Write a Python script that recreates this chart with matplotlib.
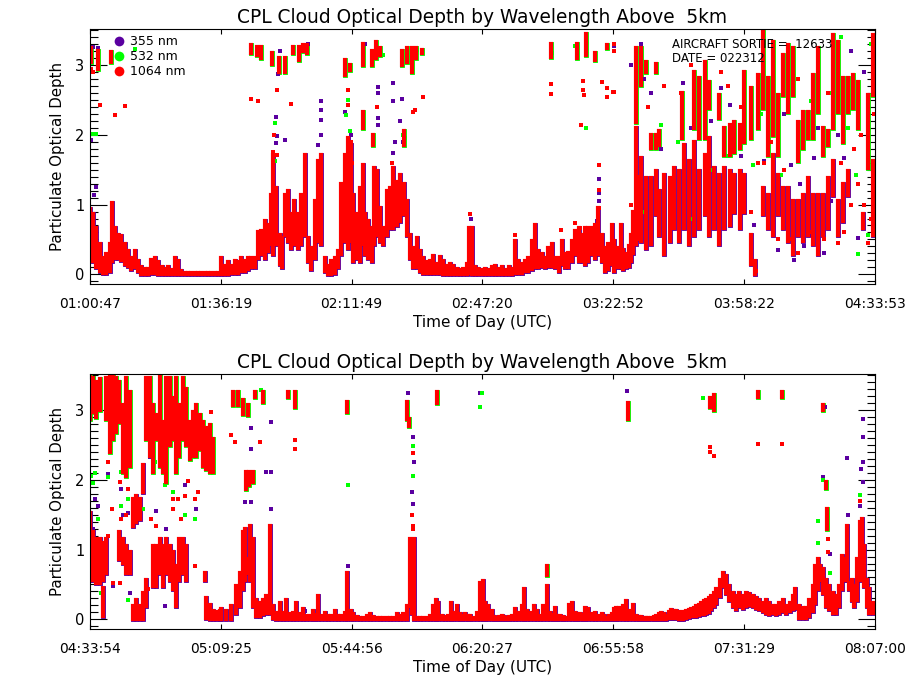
import matplotlib
matplotlib.use("Agg")
import matplotlib.pyplot as plt
from matplotlib.lines import Line2D
from matplotlib.ticker import MultipleLocator

# times are minutes after 00:00 UTC, depth is particulate optical depth
# band rows: (time, low, high) of the dense vertical runs of points
top_band = [
    (60.9, 0.24, 0.93), (61.6, 0.19, 0.86), (62.5, 0.10, 0.67), (63.4, 0.05, 0.43), (64.3, 0.02, 0.24),
    (65.2, 0.02, 0.29), (66.1, 0.05, 0.43), (66.8, 0.19, 1.02), (67.5, 0.24, 0.67), (68.4, 0.24, 0.57),
    (69.3, 0.21, 0.55), (70.2, 0.14, 0.43), (71.1, 0.12, 0.33), (72.0, 0.07, 0.24), (72.9, 0.10, 0.33),
    (73.8, 0.05, 0.19), (74.7, 0.01, 0.10), (75.6, 0.01, 0.07), (76.5, 0.01, 0.07), (77.4, 0.02, 0.21),
    (78.3, 0.02, 0.24), (79.2, 0.01, 0.17), (80.2, 0.01, 0.10), (81.1, 0.0, 0.07), (82.0, 0.0, 0.10),
    (82.9, 0.0, 0.06), (83.8, 0.0, 0.24), (84.7, 0.0, 0.19), (85.6, 0.0, 0.05), (86.5, 0.0, 0.02),
    (87.4, 0.0, 0.02), (88.3, 0.0, 0.02), (89.2, 0.0, 0.02), (90.1, 0.0, 0.02), (91.0, 0.0, 0.02),
    (91.9, 0.0, 0.02), (92.8, 0.0, 0.02), (93.7, 0.0, 0.02), (94.6, 0.0, 0.02), (95.5, 0.0, 0.02),
    (96.4, 0.0, 0.24), (97.3, 0.01, 0.12), (98.3, 0.01, 0.17), (99.2, 0.02, 0.12), (100.1, 0.02, 0.19),
    (101.0, 0.02, 0.17), (101.9, 0.05, 0.24), (102.8, 0.05, 0.19), (103.7, 0.07, 0.24), (104.6, 0.10, 0.24),
    (105.5, 0.10, 0.24), (106.4, 0.24, 0.60), (107.3, 0.29, 0.62), (108.2, 0.24, 0.76), (109.1, 0.33, 0.71),
    (110.0, 0.43, 1.14), (110.6, 0.29, 1.71), (111.4, 0.43, 1.24), (112.3, 0.14, 0.57), (112.9, 0.10, 0.52),
    (113.8, 0.57, 1.14), (114.5, 0.48, 1.19), (115.4, 0.38, 0.86), (116.3, 0.43, 1.05), (117.3, 0.38, 0.86),
    (118.2, 0.43, 1.14), (119.1, 0.57, 1.71), (120.0, 0.19, 0.52), (120.9, 0.07, 0.38), (121.8, 0.24, 1.05),
    (122.7, 0.48, 1.62), (123.6, 0.43, 1.71), (124.5, 0.05, 0.24), (125.4, 0.01, 0.12), (126.3, 0.01, 0.19),
    (127.2, 0.02, 0.24), (128.1, 0.10, 0.33), (129.0, 0.29, 1.29), (129.9, 0.48, 1.71), (130.8, 0.38, 1.95),
    (131.7, 0.48, 1.86), (132.3, 0.19, 1.14), (133.2, 0.24, 0.86), (134.1, 0.19, 1.24), (134.8, 0.43, 1.57),
    (135.4, 0.29, 0.86), (136.3, 0.24, 0.76), (137.3, 0.19, 0.67), (137.9, 0.43, 1.52), (138.6, 0.57, 1.48),
    (139.5, 0.48, 0.95), (140.4, 0.43, 0.67), (141.3, 0.57, 1.19), (142.2, 0.67, 1.24), (143.1, 0.67, 1.52),
    (144.0, 0.71, 1.33), (145.0, 0.76, 1.43), (145.9, 0.86, 1.29), (146.8, 0.57, 1.05), (147.7, 0.24, 0.57),
    (148.6, 0.10, 0.38), (149.5, 0.10, 0.52), (150.4, 0.05, 0.33), (151.3, 0.02, 0.24), (152.2, 0.02, 0.17),
    (153.1, 0.02, 0.19), (154.0, 0.02, 0.26), (154.9, 0.02, 0.14), (155.8, 0.02, 0.25), (156.7, 0.01, 0.19),
    (157.6, 0.01, 0.12), (158.5, 0.01, 0.14), (159.4, 0.01, 0.12), (160.3, 0.01, 0.07), (161.2, 0.01, 0.06),
    (162.1, 0.01, 0.07), (163.0, 0.01, 0.14), (163.8, 0.02, 0.67), (164.5, 0.01, 0.67), (165.3, 0.01, 0.10),
    (166.2, 0.01, 0.07), (167.1, 0.01, 0.06), (168.0, 0.01, 0.07), (168.9, 0.01, 0.06), (169.8, 0.01, 0.10),
    (170.7, 0.01, 0.12), (171.6, 0.01, 0.07), (172.5, 0.01, 0.10), (173.5, 0.01, 0.06), (174.4, 0.01, 0.10),
    (175.3, 0.01, 0.07), (176.2, 0.02, 0.48), (177.1, 0.02, 0.19), (178.0, 0.02, 0.14), (178.9, 0.05, 0.19),
    (179.8, 0.05, 0.24), (180.7, 0.07, 0.48), (181.6, 0.10, 0.71), (182.5, 0.10, 0.33), (183.4, 0.12, 0.29),
    (184.3, 0.10, 0.24), (185.2, 0.12, 0.38), (186.1, 0.12, 0.43), (187.0, 0.10, 0.24), (188.0, 0.05, 0.24),
    (188.8, 0.14, 0.48), (189.7, 0.10, 0.29), (190.6, 0.10, 0.31), (191.6, 0.19, 0.48), (192.5, 0.29, 0.62),
    (193.4, 0.19, 0.67), (194.3, 0.19, 0.57), (195.2, 0.14, 0.67), (196.1, 0.19, 0.67), (197.0, 0.29, 0.67),
    (197.9, 0.24, 0.71), (198.8, 0.29, 0.95), (199.7, 0.19, 0.57), (200.6, 0.05, 0.38), (201.5, 0.07, 0.43),
    (202.4, 0.14, 0.71), (203.1, 0.05, 0.48), (204.0, 0.10, 0.38), (204.9, 0.10, 0.71), (205.6, 0.08, 0.35),
    (206.3, 0.10, 0.29), (207.0, 0.12, 0.40), (207.6, 0.19, 0.57), (208.3, 0.30, 0.90), (209.0, 0.43, 2.10),
    (209.7, 0.50, 1.40), (210.4, 0.48, 1.67), (211.7, 0.38, 1.38), (213.1, 0.43, 1.38), (214.4, 0.86, 1.48),
    (215.3, 0.57, 1.19), (216.7, 0.29, 1.43), (218.1, 0.48, 1.38), (219.4, 0.67, 1.52), (220.8, 0.48, 1.48),
    (222.1, 0.67, 1.86), (223.5, 0.43, 1.62), (224.8, 0.57, 1.90), (226.2, 0.67, 1.48), (227.6, 0.86, 1.71),
    (228.9, 0.57, 1.95), (230.3, 0.67, 1.52), (231.6, 0.43, 1.43), (233.0, 0.67, 1.52), (234.4, 0.71, 1.48),
    (235.7, 0.90, 1.43), (237.1, 0.67, 1.48), (238.4, 0.90, 1.43), (240.2, 0.14, 0.57), (241.3, 0.01, 0.19),
    (243.4, 0.86, 1.24), (244.8, 0.67, 1.14), (246.1, 0.57, 1.71), (247.5, 0.86, 1.43), (248.8, 0.67, 1.24),
    (250.2, 0.48, 1.24), (251.5, 0.29, 1.05), (252.9, 0.57, 1.05), (254.3, 0.48, 1.14), (255.6, 0.57, 1.38),
    (257.0, 0.43, 1.14), (258.3, 0.29, 1.14), (259.7, 0.57, 1.14), (261.0, 0.67, 1.38), (262.4, 1.14, 1.62),
    (263.8, 0.57, 1.05), (265.1, 0.76, 1.29), (266.5, 1.14, 1.48), (270.5, 0.67, 0.86), (273.3, 0.57, 1.62),
]
top_upper = [
    (61.1, 3.05, 3.24), (62.9, 2.95, 3.20), (66.5, 3.05, 3.19), (104.6, 3.17, 3.29), (106.0, 3.14, 3.26),
    (107.3, 3.10, 3.26), (110.2, 3.02, 3.17), (112.0, 2.90, 3.10), (113.6, 2.90, 3.10), (115.9, 3.17, 3.26),
    (117.4, 3.07, 3.26), (118.6, 3.20, 3.29), (119.8, 3.17, 3.29), (129.9, 2.86, 3.07), (131.4, 2.93, 3.00),
    (135.0, 3.00, 3.30), (137.3, 3.00, 3.20), (138.4, 3.10, 3.33), (139.5, 3.15, 3.25), (145.4, 3.00, 3.20),
    (146.8, 3.05, 3.24), (148.2, 2.90, 3.24), (149.2, 3.10, 3.24), (151.0, 3.17, 3.22), (185.9, 3.12, 3.30),
    (193.0, 3.10, 3.30), (195.5, 3.15, 3.45), (197.9, 3.07, 3.17), (201.0, 3.24, 3.29), (135.0, 2.10, 2.33),
    (137.7, 1.86, 2.00), (145.9, 1.86, 2.05),
    (209.0, 2.19, 3.24), (210.4, 2.71, 3.24), (211.7, 2.90, 3.05), (213.1, 1.81, 2.00), (214.4, 2.90, 3.02),
    (214.4, 1.81, 2.00), (215.3, 1.86, 2.05), (221.5, 1.95, 2.60), (224.8, 2.10, 2.90), (226.2, 1.95, 2.81),
    (227.6, 1.95, 3.05), (228.9, 2.38, 2.76), (231.6, 2.24, 2.57), (233.0, 1.71, 2.10), (234.4, 1.71, 2.14),
    (235.7, 1.76, 2.19), (237.1, 1.81, 2.14), (238.4, 1.90, 2.90), (240.2, 1.95, 2.67), (242.0, 2.10, 2.86),
    (243.4, 2.38, 3.48), (244.8, 1.71, 2.81), (246.1, 2.00, 3.33), (247.5, 1.71, 2.57), (248.8, 2.57, 3.14),
    (250.2, 2.33, 3.29), (251.5, 2.57, 3.24), (252.9, 1.62, 2.19), (254.3, 1.81, 2.33), (255.6, 1.95, 2.33),
    (257.0, 1.95, 2.86), (258.3, 2.33, 3.24), (259.7, 1.71, 2.10), (261.0, 1.86, 2.05), (262.4, 2.10, 3.43),
    (263.8, 2.33, 3.33), (265.1, 1.90, 2.81), (266.5, 2.33, 2.81), (267.8, 2.38, 2.86), (269.2, 2.10, 2.76),
    (271.9, 1.52, 2.57), (273.3, 2.57, 3.43),
]
top_purple = [
    (62.95, 3.24), (61.6, 3.26), (62.5, 1.25), (61.9, 1.14), (61.1, 1.93), (111.4, 2.26), (111.4, 1.88),
    (111.6, 1.98), (113.6, 1.93), (123.6, 2.48), (123.6, 2.36), (123.6, 2.21), (123.6, 2.0), (122.7, 1.86),
    (111.8, 2.88), (112.3, 3.21), (120.0, 3.3), (129.9, 2.86), (131.7, 2.0), (129.9, 2.33),
    (139.1, 2.69), (139.1, 2.6), (143.1, 2.74), (143.1, 2.48), (145.4, 2.52), (139.1, 2.24), (139.1, 2.14),
    (145.0, 2.2), (145.8, 1.9), (143.6, 1.9), (137.7, 1.86), (143.1, 1.74), (131.4, 1.9), (199.0, 1.36),
    (199.0, 1.17), (199.0, 1.05), (198.3, 0.76), (148.1, 3.2), (135.4, 3.3), (202.9, 3.27), (197.9, 3.17),
    (164.2, 0.79), (221.7, 2.74), (232.1, 2.67), (234.4, 2.43), (243.8, 1.62), (251.1, 1.57), (253.4, 1.29),
    (257.4, 1.67), (265.6, 1.67), (269.2, 0.52), (261.9, 1.05), (256.1, 0.57), (210.4, 3.3), (213.1, 2.6),
    (207.6, 3.0), (215.8, 1.8), (235.7, 1.75), (237.5, 1.7), (229.4, 2.2), (249.3, 2.3), (254.7, 0.4),
    (258.3, 2.1), (263.8, 2.0), (267.4, 3.2), (271.0, 2.9), (273.3, 1.1), (223.9, 2.1), (211.3, 2.8),
    (241.1, 0.7), (247.5, 0.35), (260.1, 0.3), (252.0, 0.2),
]
top_green = [
    (61.6, 2.01), (62.5, 2.01), (72.9, 3.23), (110.9, 2.17), (110.9, 1.62), (129.9, 2.93), (130.8, 2.5),
    (130.4, 2.29), (117.4, 3.1), (107.3, 3.12), (110.5, 1.55), (119.1, 1.62), (135.0, 2.15), (145.8, 2.0),
    (146.3, 1.95), (131.4, 2.05), (195.4, 2.1), (194.0, 2.14), (192.5, 3.27), (186.1, 3.17), (149.5, 3.22),
    (140.4, 3.15), (137.7, 1.95), (214.0, 2.0), (215.8, 2.14), (214.9, 1.95), (224.8, 2.79), (240.7, 1.57),
    (268.7, 1.43), (269.2, 0.29), (271.9, 0.57), (246.1, 1.05), (248.4, 1.43), (256.5, 2.48), (266.5, 2.1),
    (233.9, 1.7), (229.4, 1.5), (211.3, 0.9), (220.3, 1.9), (252.9, 1.9), (261.9, 2.6), (272.8, 3.3),
    (264.7, 3.4), (242.9, 2.3), (258.3, 1.0), (223.9, 0.8), (238.4, 2.0),
]
top_red = [
    (61.1, 2.95), (61.6, 2.9), (62.95, 3.12), (63.4, 2.43), (66.4, 3.12), (66.6, 3.05), (67.7, 2.28),
    (70.4, 2.42), (104.6, 2.52), (106.4, 2.49), (111.6, 2.64), (115.4, 2.45), (110.7, 2.0), (110.5, 1.76),
    (111.6, 1.71), (119.1, 1.71), (122.7, 1.6), (130.8, 2.64), (130.8, 2.43), (131.7, 1.9), (110.2, 3.1),
    (113.6, 2.95), (131.4, 1.7), (131.8, 1.6), (135.0, 2.33), (135.0, 2.2), (138.6, 2.4), (137.7, 1.95),
    (148.1, 2.9), (148.6, 2.33), (149.0, 2.36), (151.1, 2.55), (142.9, 1.6), (143.1, 1.52), (185.9, 2.73),
    (185.9, 2.58), (194.7, 2.78), (194.7, 2.64), (194.9, 2.57), (199.7, 2.76), (201.0, 2.67), (201.2, 2.55),
    (202.9, 2.62), (199.0, 1.57), (199.0, 1.21), (199.0, 0.95), (192.5, 0.74), (188.7, 0.64), (193.8, 0.67),
    (164.0, 0.86), (176.2, 0.57), (194.0, 2.14), (202.7, 2.62), (203.1, 3.2), (203.1, 3.3), (238.4, 1.17),
    (241.6, 0.05), (214.9, 1.1), (243.8, 1.6), (247.5, 0.5), (251.1, 0.5), (252.9, 0.3), (256.5, 0.6),
    (258.3, 0.4), (260.1, 0.5), (263.8, 0.45), (265.6, 0.6), (267.4, 1.0), (269.2, 1.3), (271.0, 1.0),
    (272.8, 0.8), (268.3, 1.8), (270.1, 2.0), (261.0, 2.6), (252.9, 2.8), (242.0, 1.6), (240.2, 0.9),
    (237.5, 2.4), (232.1, 2.9), (221.2, 2.6), (223.9, 3.0), (216.7, 2.7), (212.2, 2.4), (207.6, 1.0),
    (233.9, 2.7), (245.7, 1.9), (249.3, 1.5), (264.7, 1.6), (271.9, 0.45), (273.7, 2.3),
]

bot_band = [
    (273.9, 0.57, 1.53), (274.7, 0.57, 1.25), (275.6, 0.52, 1.15), (276.5, 0.52, 1.15), (277.4, 0.57, 1.10),
    (277.4, 0.05, 0.45), (278.3, 0.67, 1.15), (281.8, 0.86, 1.25), (282.9, 0.81, 1.15), (283.8, 0.67, 1.05),
    (284.7, 0.67, 0.96), (285.6, 0.0, 0.19), (285.6, 1.34, 1.73), (286.5, 0.0, 0.28), (286.5, 1.39, 1.77),
    (287.4, 0.0, 0.19), (287.4, 1.44, 1.73), (288.3, 0.0, 0.38), (288.3, 1.82, 2.21), (289.2, 0.19, 0.57),
    (291.0, 0.48, 1.05), (291.9, 0.48, 1.05), (292.8, 0.67, 1.15), (293.7, 0.48, 1.05), (294.6, 0.67, 1.15),
    (295.5, 0.57, 1.05), (296.4, 0.43, 0.96), (297.3, 0.19, 0.76), (298.2, 0.57, 1.15), (299.1, 0.67, 1.15),
    (300.1, 0.57, 1.05), (305.0, 0.57, 0.67), (305.5, 0.02, 0.30), (306.4, 0.0, 0.20), (307.3, 0.0, 0.12),
    (308.2, 0.0, 0.10), (309.1, 0.0, 0.12), (309.6, 0.0, 0.14), (310.9, 0.0, 0.12), (312.3, 0.0, 0.19),
    (313.6, 0.09, 0.48), (314.5, 0.19, 0.67), (315.4, 0.43, 1.25), (316.1, 0.57, 1.29), (316.8, 0.67, 0.86),
    (317.4, 0.57, 1.34), (318.2, 0.19, 1.15), (319.1, 0.04, 0.28), (320.0, 0.04, 0.24), (320.9, 0.07, 0.28),
    (321.8, 0.09, 0.33), (322.7, 0.09, 1.34), (323.6, 0.02, 0.19), (324.5, 0.0, 0.09), (325.4, 0.0, 0.24),
    (326.3, 0.0, 0.09), (327.2, 0.0, 0.28), (328.1, 0.0, 0.07), (329.0, 0.0, 0.09), (329.9, 0.0, 0.24),
    (330.8, 0.0, 0.07), (331.7, 0.0, 0.14), (332.6, 0.0, 0.05), (333.5, 0.0, 0.05), (334.4, 0.0, 0.12),
    (335.1, 0.0, 0.06), (335.8, 0.0, 0.33), (336.7, 0.0, 0.05), (337.6, 0.0, 0.09), (338.5, 0.0, 0.04),
    (339.4, 0.0, 0.04), (340.3, 0.0, 0.12), (341.2, 0.0, 0.05), (342.1, 0.0, 0.05), (343.0, 0.0, 0.09),
    (343.8, 0.0, 0.67), (344.7, 0.0, 0.12), (345.4, 0.0, 0.07), (346.3, 0.0, 0.03), (347.2, 0.0, 0.02),
    (348.1, 0.0, 0.02), (349.0, 0.0, 0.04), (349.9, 0.0, 0.07), (350.8, 0.0, 0.03), (351.7, 0.0, 0.02),
    (352.6, 0.0, 0.02), (353.5, 0.0, 0.02), (354.4, 0.0, 0.02), (355.3, 0.0, 0.02), (356.2, 0.0, 0.02),
    (357.2, 0.0, 0.07), (358.1, 0.0, 0.04), (359.0, 0.0, 0.07), (360.0, 0.0, 0.19), (360.8, 0.19, 1.15),
    (361.3, 0.09, 0.91), (361.9, 0.0, 1.15), (362.6, 0.0, 0.02), (363.5, 0.0, 0.02), (364.4, 0.0, 0.02),
    (365.3, 0.0, 0.02), (366.2, 0.0, 0.04), (367.1, 0.0, 0.19), (367.8, 0.0, 0.28), (368.5, 0.0, 0.24),
    (369.4, 0.0, 0.04), (370.3, 0.0, 0.03), (371.1, 0.0, 0.05), (371.8, 0.0, 0.24), (372.5, 0.0, 0.09),
    (373.4, 0.0, 0.19), (374.3, 0.0, 0.07), (375.0, 0.0, 0.05), (375.7, 0.0, 0.07), (376.4, 0.0, 0.04),
    (377.1, 0.0, 0.04), (378.0, 0.0, 0.02), (378.9, 0.0, 0.09), (379.8, 0.0, 0.52), (380.5, 0.0, 0.55),
    (381.1, 0.0, 0.24), (382.0, 0.0, 0.19), (382.9, 0.0, 0.12), (383.6, 0.0, 0.03), (384.3, 0.0, 0.02),
    (385.0, 0.0, 0.03), (385.7, 0.0, 0.05), (386.4, 0.0, 0.03), (387.0, 0.0, 0.02), (387.7, 0.0, 0.03),
    (388.4, 0.0, 0.04), (389.3, 0.0, 0.14), (390.2, 0.0, 0.09), (391.1, 0.0, 0.19), (391.7, 0.0, 0.43),
    (392.4, 0.0, 0.12), (393.4, 0.0, 0.09), (394.3, 0.0, 0.19), (395.2, 0.0, 0.12), (396.1, 0.0, 0.04),
    (397.0, 0.0, 0.19), (397.9, 0.0, 0.48), (398.8, 0.0, 0.09), (399.5, 0.0, 0.06), (400.1, 0.0, 0.16),
    (400.8, 0.0, 0.05), (401.5, 0.0, 0.04), (402.2, 0.0, 0.03), (402.9, 0.0, 0.02), (403.8, 0.0, 0.21),
    (404.7, 0.0, 0.24), (405.6, 0.0, 0.09), (406.2, 0.0, 0.08), (406.9, 0.0, 0.07), (407.6, 0.0, 0.06),
    (408.3, 0.0, 0.16), (409.2, 0.0, 0.14), (410.1, 0.0, 0.07), (411.0, 0.0, 0.09), (411.9, 0.0, 0.05),
    (412.8, 0.0, 0.07), (413.5, 0.0, 0.04), (414.2, 0.0, 0.02), (414.9, 0.0, 0.04), (415.5, 0.0, 0.07),
    (416.2, 0.0, 0.14), (416.7, 0.0, 0.16), (417.6, 0.0, 0.16), (418.5, 0.0, 0.19), (419.4, 0.0, 0.26),
    (420.3, 0.0, 0.12), (421.2, 0.0, 0.21), (422.1, 0.0, 0.04), (422.8, 0.0, 0.03), (423.5, 0.0, 0.03),
    (424.2, 0.0, 0.02), (424.8, 0.0, 0.02), (425.5, 0.0, 0.02), (426.2, 0.0, 0.02), (426.9, 0.0, 0.03),
    (427.6, 0.0, 0.05), (428.3, 0.0, 0.07), (428.9, 0.0, 0.09), (429.6, 0.0, 0.07), (430.3, 0.0, 0.05),
    (431.0, 0.02, 0.10), (431.6, 0.02, 0.13), (432.3, 0.02, 0.12), (433.0, 0.02, 0.12), (433.7, 0.01, 0.10),
    (434.3, 0.0, 0.08), (435.0, 0.01, 0.10), (435.7, 0.02, 0.12), (436.4, 0.03, 0.13), (437.1, 0.04, 0.14),
    (437.8, 0.04, 0.16), (438.4, 0.05, 0.19), (439.1, 0.06, 0.21), (439.8, 0.07, 0.24), (440.5, 0.08, 0.26),
    (441.1, 0.09, 0.28), (441.8, 0.11, 0.30), (442.5, 0.14, 0.33), (443.2, 0.19, 0.38), (443.9, 0.24, 0.43),
    (444.8, 0.33, 0.57), (445.7, 0.48, 0.67), (446.6, 0.38, 0.62), (447.5, 0.28, 0.48), (448.4, 0.19, 0.38),
    (449.3, 0.14, 0.33), (450.2, 0.19, 0.38), (451.1, 0.16, 0.33), (452.0, 0.19, 0.38), (452.9, 0.21, 0.36),
    (453.8, 0.19, 0.33), (454.7, 0.16, 0.31), (455.6, 0.14, 0.28), (456.5, 0.12, 0.24), (457.4, 0.09, 0.28),
    (458.3, 0.07, 0.24), (459.2, 0.09, 0.19), (460.1, 0.07, 0.19), (461.0, 0.09, 0.24), (461.9, 0.12, 0.28),
    (462.8, 0.09, 0.19), (463.8, 0.12, 0.24), (464.7, 0.14, 0.33), (465.4, 0.16, 0.43), (466.5, 0.02, 0.19),
    (467.4, 0.02, 0.16), (468.3, 0.02, 0.16), (469.2, 0.04, 0.28), (470.1, 0.12, 0.48), (470.8, 0.24, 0.76),
    (471.4, 0.43, 0.86), (472.2, 0.57, 0.76), (472.8, 0.38, 0.72), (473.7, 0.19, 0.57), (474.6, 0.14, 0.48),
    (475.5, 0.09, 0.38), (476.4, 0.09, 0.33), (477.3, 0.19, 0.48), (478.0, 0.43, 0.91), (478.7, 0.57, 0.86),
    (479.4, 0.57, 1.34), (480.0, 0.43, 0.52), (480.7, 0.28, 0.57), (481.4, 0.19, 0.48), (482.1, 0.28, 0.86),
    (482.8, 0.57, 1.39), (483.4, 0.67, 1.44), (484.1, 0.48, 1.05), (484.8, 0.19, 0.57), (485.5, 0.09, 0.43),
    (486.4, 0.09, 0.24),
]
bot_upper = [
    (273.9, 2.88, 3.50), (274.7, 2.98, 3.46), (275.6, 2.90, 3.40), (276.5, 3.00, 3.45), (278.3, 2.88, 3.46),
    (279.2, 2.40, 3.50), (280.1, 2.59, 3.50), (281.0, 2.69, 3.46), (281.8, 2.83, 3.41), (282.9, 2.11, 3.07),
    (283.8, 2.06, 3.46), (284.7, 2.20, 3.26), (289.2, 2.59, 3.46), (290.1, 2.35, 3.46), (291.0, 2.11, 3.07),
    (291.9, 2.59, 2.93), (292.8, 2.20, 3.50), (293.7, 2.11, 2.83), (294.6, 1.97, 3.46), (295.5, 2.50, 3.46),
    (296.4, 2.59, 3.17), (297.3, 2.11, 3.46), (298.2, 2.35, 3.07), (299.1, 2.59, 3.46), (300.1, 2.50, 3.31),
    (301.0, 2.30, 2.83), (301.9, 2.35, 2.98), (302.8, 2.35, 3.07), (303.7, 2.45, 2.93), (304.6, 2.20, 2.83),
    (305.5, 2.16, 2.74), (306.4, 2.11, 2.79), (307.3, 2.11, 2.59),
    (312.7, 3.07, 3.26), (314.1, 3.07, 3.26), (315.4, 2.95, 3.14), (316.8, 2.93, 3.07), (318.6, 3.19, 3.26),
    (321.0, 3.12, 3.26), (327.7, 3.19, 3.26), (329.5, 3.05, 3.26), (343.8, 2.98, 3.12), (316.3, 1.87, 2.11),
    (317.2, 1.92, 2.11), (318.1, 1.97, 2.11), (360.0, 2.88, 3.12), (360.6, 2.78, 2.88), (368.2, 3.10, 3.26),
    (397.9, 0.64, 0.76), (419.9, 2.88, 3.10), (442.3, 3.05, 3.18), (443.4, 3.00, 3.22), (455.2, 3.19, 3.26),
    (461.7, 3.19, 3.26), (472.8, 3.00, 3.07), (474.0, 1.29, 1.58), (473.7, 1.89, 1.97),
]
bot_purple = [
    (284.2, 1.53), (282.4, 1.87), (278.8, 2.09), (275.2, 1.73), (276.1, 1.63), (290.1, 2.33), (291.9, 1.56),
    (294.6, 1.29), (302.8, 1.58), (299.6, 1.92), (323.1, 2.83), (317.7, 2.74), (317.7, 2.45), (323.1, 2.11),
    (323.1, 1.58), (315.9, 1.68), (317.7, 1.68), (321.8, 2.11), (282.9, 1.49), (280.1, 0.48), (284.7, 0.38),
    (288.7, 0.28), (277.0, 0.38), (274.7, 1.29), (294.2, 0.19), (332.2, 0.12), (343.9, 0.76),
    (360.1, 3.25), (361.7, 2.62), (361.9, 2.26), (361.4, 1.82), (361.7, 1.65), (379.8, 3.25), (360.6, 2.85),
    (419.7, 3.27), (442.3, 3.18), (443.4, 3.15), (479.4, 2.31), (472.8, 2.04), (479.6, 1.49), (483.7, 2.88),
    (483.7, 2.62), (483.2, 2.16), (483.7, 1.97), (483.7, 2.25), (482.8, 1.63), (474.9, 0.93), (473.3, 3.05),
]
bot_green = [
    (274.7, 1.95), (274.3, 2.05), (275.2, 2.1), (276.1, 1.44), (282.4, 2.11), (284.2, 1.73), (288.3, 1.58),
    (296.4, 1.82), (297.3, 0.24), (291.5, 2.25), (294.2, 1.92), (315.9, 1.05), (317.7, 1.97), (343.9, 1.92),
    (278.8, 2.04), (277.0, 0.38), (284.2, 0.28), (320.4, 3.29), (299.6, 1.49), (302.3, 1.44), (282.4, 1.63),
    (361.5, 2.49), (361.7, 2.06), (361.2, 0.16), (380.2, 3.25), (379.8, 3.05), (360.0, 3.05),
    (419.9, 3.1), (419.9, 3.0), (440.2, 3.17), (455.2, 3.26), (472.8, 2.0), (471.6, 1.41), (471.4, 1.1),
    (483.0, 1.78), (483.4, 1.39), (474.9, 0.67), (472.8, 3.02),
]
bot_red = [
    (278.8, 2.25), (279.9, 1.58), (282.4, 1.44), (282.0, 1.97), (283.8, 1.49), (284.2, 1.87), (290.6, 1.44),
    (291.9, 1.34), (296.4, 1.73), (296.4, 1.58), (297.8, 1.73), (299.6, 1.77), (300.5, 1.99), (302.3, 1.73),
    (303.2, 1.82), (298.7, 1.44), (312.3, 2.64), (313.2, 2.54), (320.0, 2.54), (329.5, 2.45), (329.5, 2.57),
    (306.8, 2.98), (284.7, 0.76), (280.1, 0.52), (282.0, 0.52), (289.6, 0.43), (302.3, 0.76), (278.8, 1.2),
    (361.5, 2.38), (361.4, 1.5), (361.5, 1.34), (361.5, 1.29),
    (419.9, 2.9), (442.3, 3.1), (443.4, 3.01), (442.2, 2.47), (442.3, 2.4), (443.2, 2.35), (455.2, 2.52),
    (461.7, 2.52), (473.7, 1.93), (474.0, 1.5), (474.0, 1.35), (483.0, 1.7), (474.2, 1.15), (474.3, 0.96),
    (472.8, 3.05),
]

top_ticks = ["01:00:47", "01:36:19", "02:11:49", "02:47:20", "03:22:52", "03:58:22", "04:33:53"]
bot_ticks = ["04:33:54", "05:09:25", "05:44:56", "06:20:27", "06:55:58", "07:31:29", "08:07:00"]
wavelengths = ["355 nm", "532 nm", "1064 nm"]

PURPLE = "#5a00a0"
GREEN = "#00ff00"
RED = "#ff0000"
TITLE = "CPL Cloud Optical Depth by Wavelength Above  5km"


def to_minutes(label):
    h, m, s = (int(p) for p in label.split(":"))
    return h * 60 + m + s / 60.0


def draw_runs(ax, rows, color, width):
    t, lo, hi = zip(*rows)
    lc = ax.vlines(t, lo, hi, colors=color, linewidth=width)
    lc.set_capstyle("projecting")


def draw_points(ax, pts, color):
    t, v = zip(*pts)
    ax.plot(t, v, "s", color=color, ms=2.6, mew=0)


def draw_panel(ax, band, upper, purple, green, red, ticks):
    # 355 nm underneath, then 532 nm, 1064 nm drawn last on top
    draw_runs(ax, band, PURPLE, 3.5)
    draw_runs(ax, upper, GREEN, 3.5)
    draw_points(ax, purple, PURPLE)
    draw_points(ax, green, GREEN)
    draw_runs(ax, band, RED, 3.0)
    draw_runs(ax, upper, RED, 3.0)
    draw_points(ax, red, RED)

    pos = [to_minutes(s) for s in ticks]
    ax.set_xlim(pos[0], pos[-1])
    ax.set_ylim(-0.14, 3.52)
    ax.set_xticks(pos)
    ax.set_xticklabels(ticks)
    ax.set_yticks([0, 1, 2, 3])
    ax.yaxis.set_minor_locator(MultipleLocator(0.1))
    ax.tick_params(axis="x", direction="in", length=3.6, width=0.8, top=True,
                   labelsize=10, pad=9)
    ax.tick_params(axis="y", which="major", direction="in", length=12, width=0.8,
                   right=True, labelsize=10.5, pad=4)
    ax.tick_params(axis="y", which="minor", direction="in", length=6, width=0.8, right=True)
    for sp in ax.spines.values():
        sp.set_linewidth(0.8)
    ax.set_title(TITLE, fontsize=13.4, pad=4)
    ax.set_xlabel("Time of Day (UTC)", fontsize=11, labelpad=3)
    ax.set_ylabel("Particulate Optical Depth", fontsize=10.8, labelpad=7)


fig = plt.figure(figsize=(9.2, 6.9), dpi=100)
ax1 = fig.add_axes([0.0978, 0.5884, 0.8533, 0.3696])
ax2 = fig.add_axes([0.0978, 0.0884, 0.8533, 0.3696])

draw_panel(ax1, top_band, top_upper, top_purple, top_green, top_red, top_ticks)
draw_panel(ax2, bot_band, bot_upper, bot_purple, bot_green, bot_red, bot_ticks)

handles = [Line2D([], [], ls="none", marker="o", ms=7, mew=0, color=c) for c in (PURPLE, GREEN, RED)]
ax1.legend(handles, wavelengths, loc="upper left", bbox_to_anchor=(0.031, 0.975), frameon=False,
           fontsize=9, handlelength=0.8, handletextpad=0.45, labelspacing=0.15,
           borderpad=0, borderaxespad=0)

ax1.text(0.741, 0.941, "AIRCRAFT SORTIE =  12633", transform=ax1.transAxes,
         fontsize=8.5, va="center", ha="left")
ax1.text(0.741, 0.886, "DATE = 022312", transform=ax1.transAxes,
         fontsize=8.5, va="center", ha="left")

fig.savefig("out.png", dpi=100)
